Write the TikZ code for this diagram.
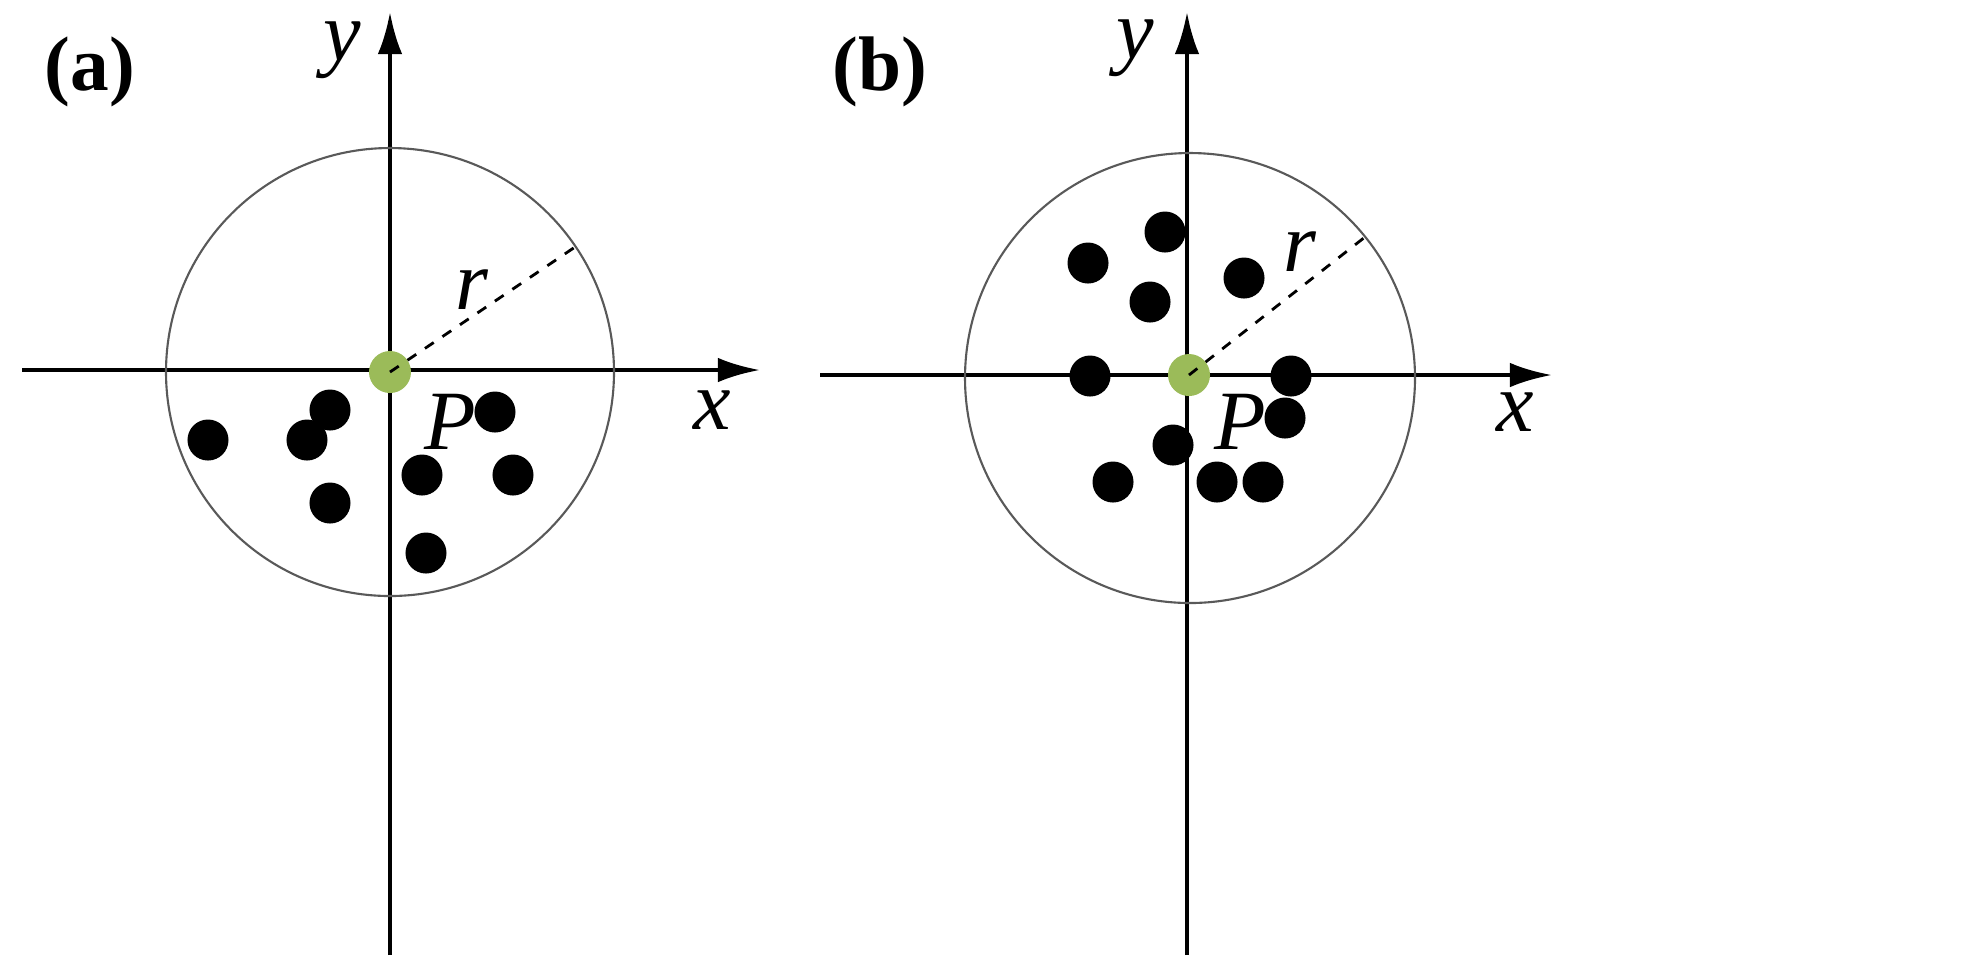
\documentclass[tikz,border=0pt]{standalone}
\usepackage{fontspec}
\setmainfont{Liberation Serif}
\usetikzlibrary{arrows.meta}
\definecolor{pgreen}{HTML}{9BBB59}
\begin{document}
\begin{tikzpicture}[x=0.01cm,y=-0.01cm,
  ax/.style={line width=1.2pt,-{Latex[length=12pt,width=7pt]}},
  dot/.style={circle,fill=black,minimum size=0.41cm,inner sep=0pt},
  gdot/.style={circle,fill=pgreen,minimum size=0.42cm,inner sep=0pt},
  lab/.style={font=\fontsize{24}{28}\selectfont\itshape},
  tag/.style={font=\fontsize{22}{26}\selectfont\bfseries}]
\useasboundingbox (0,0) rectangle (1988,956);
% panel a
\coordinate (ab) at (390,955); \coordinate (at) at (390,12);
\coordinate (al) at (22,370); \coordinate (ar) at (760,370);
\draw[ax] (ab) -- (at);
\draw[ax] (al) -- (ar);
\draw[gray!70!black,line width=0.6pt] (390,372) circle[radius=224];
\coordinate (ae) at (578,245);
\node[gdot] (ap) at (390,372) {};
\draw[dashed,line width=0.8pt] (ap.center) -- (ae);
\node[lab] (ar1) at (472,290) {r};
\node[lab] (aP) at (450,422) {P};
\node[lab] (ax1) at (712,410) {x};
\node[lab] (ay1) at (342,50) {y};
\node[tag] (ta) at (90,72) {(a)};
\foreach \i/\p in {1/{(208,440)},2/{(330,410)},3/{(307,440)},4/{(330,503)},5/{(422,475)},6/{(495,412)},7/{(513,475)},8/{(426,553)}}
  \node[dot] (a\i) at \p {};
% panel b
\coordinate (bb) at (1187,955); \coordinate (bt) at (1187,12);
\coordinate (bl) at (820,375); \coordinate (br) at (1552,375);
\draw[ax] (bb) -- (bt);
\draw[ax] (bl) -- (br);
\draw[gray!70!black,line width=0.6pt] (1190,378) circle[radius=225];
\coordinate (be) at (1365,237);
\node[gdot] (bp) at (1189,375) {};
\draw[dashed,line width=0.8pt] (bp.center) -- (be);
\node[lab] (br1) at (1300,252) {r};
\node[lab] (bP) at (1240,422) {P};
\node[lab] (bx1) at (1515,412) {x};
\node[lab] (by1) at (1135,48) {y};
\node[tag] (tb) at (880,72) {(b)};
\foreach \i/\p in {1/{(1165,232)},2/{(1088,263)},3/{(1244,278)},4/{(1150,302)},5/{(1090,376)},6/{(1291,376)},7/{(1285,418)},8/{(1173,445)},9/{(1113,482)},10/{(1217,482)},11/{(1263,482)}}
  \node[dot] (b\i) at \p {};
\end{tikzpicture}
\end{document}
